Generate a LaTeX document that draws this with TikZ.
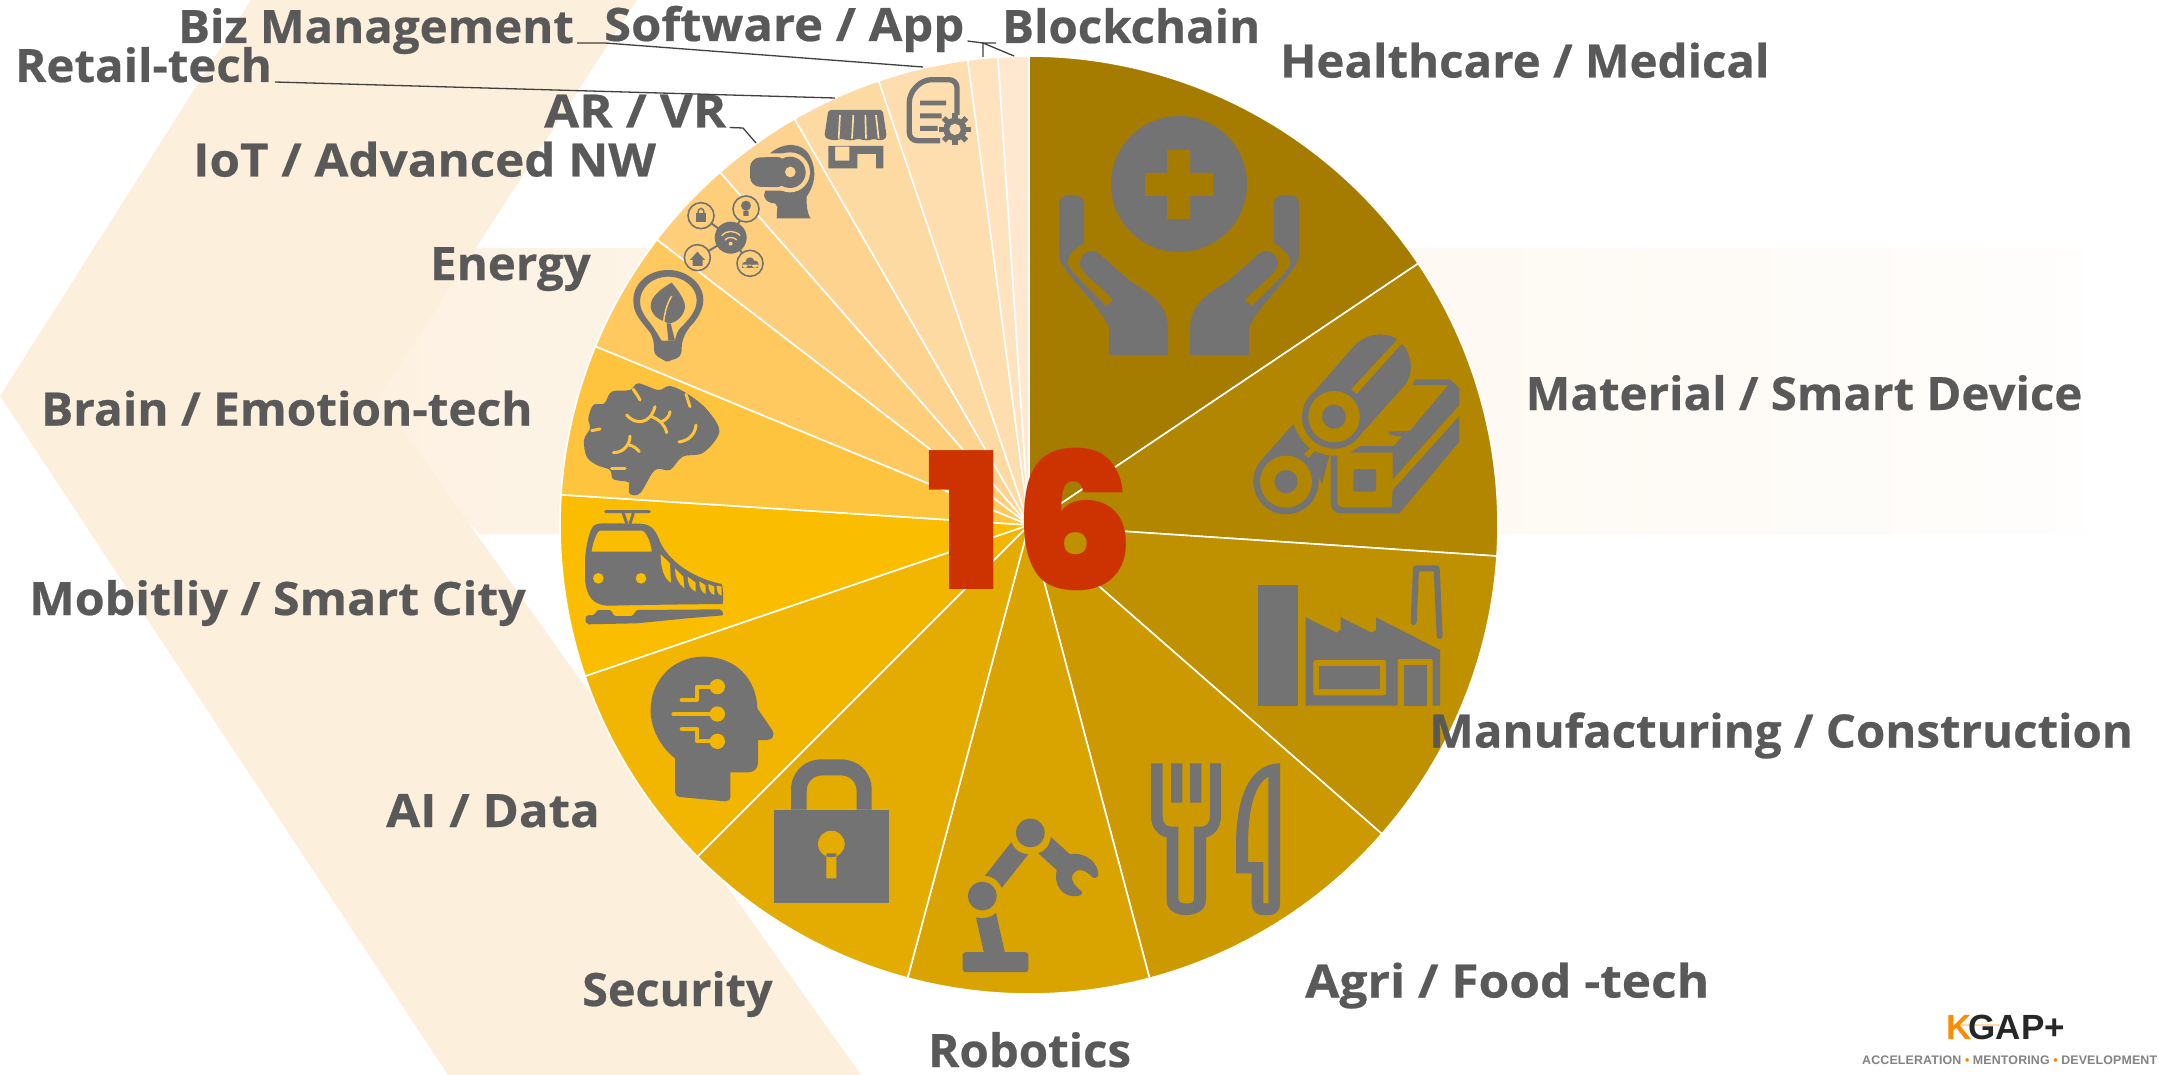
\documentclass[tikz,border=0pt]{standalone}
\usepackage{graphicx}
\usepackage{fontspec}
\setmainfont[FakeStretch=1.03,BoldFeatures={FakeBold=0.5}]{Open Sans}
\newfontfamily\heavyfont{Poppins Black}
\newfontfamily\logofont{Liberation Sans}
\usetikzlibrary{calc}
\newcommand{\widen}[2]{\scalebox{#1}[1]{#2}}
\definecolor{txt}{HTML}{595959}
\definecolor{ico}{HTML}{737373}
\definecolor{leader}{HTML}{404040}
\definecolor{chev}{HTML}{FCEFDC}
\definecolor{red16}{HTML}{CC3300}
\definecolor{cHealth}{HTML}{A67C00}
\definecolor{cMat}{HTML}{B38600}
\definecolor{cManu}{HTML}{BF9000}
\definecolor{cAgri}{HTML}{CC9900}
\definecolor{cRobo}{HTML}{D9A300}
\definecolor{cSec}{HTML}{E5AC00}
\definecolor{cAI}{HTML}{F2B500}
\definecolor{cMob}{HTML}{FBBD00}
\definecolor{cBrain}{HTML}{FFC43D}
\definecolor{cEnergy}{HTML}{FFC95F}
\definecolor{cIoT}{HTML}{FECE7A}
\definecolor{cAR}{HTML}{FED38F}
\definecolor{cRetail}{HTML}{FEDAA3}
\definecolor{cBiz}{HTML}{FEDDAF}
\definecolor{cSoft}{HTML}{FFE3BF}
\definecolor{cBlock}{HTML}{FFE8CF}
\tikzset{
  lbl/.style={font=\fontsize{46}{46}\selectfont\bfseries,text=txt,anchor=base west,inner sep=0pt},
  lead/.style={draw=leader,line width=1.3pt},
  icn/.style={fill=ico},
  z3/.style 2 args={shift={(#1,#2)},scale=0.33333},
  wire/.style={line width=#1,line cap=round,line join=round},
}
\begin{document}
\begin{tikzpicture}[x=1pt,y=-1pt]
\useasboundingbox (0,0) rectangle (2159,1075);
\fill[white] (0,0) rectangle (2159,1075);
% background arrows
\shade[left color=chev!85!white,middle color=chev!45!white,right color=chev!8!white]
  (475,248) -- (2085,248) -- (2085,534) -- (480,534) -- (340,397) -- cycle;
\fill[chev] (251,0) -- (637,0) -- (379,397) -- (861,1075) -- (448,1075) -- (0,396) -- cycle;
% pie
\coordinate (C) at (1029,525);
\foreach \a/\b/\c in {0/56.1/cHealth,56.1/93.8/cMat,93.8/131.2/cManu,131.2/165.1/cAgri,165.1/195/cRobo,195/225/cSec,225/251.2/cAI,251.2/273.7/cMob,273.7/292.4/cBrain,292.4/307.5/cEnergy,307.5/318.8/cIoT,318.8/330/cAR,330/341.3/cRetail,341.3/352.5/cBiz,352.5/356.2/cSoft,356.2/360/cBlock}{
  \filldraw[fill=\c,draw=white,line width=1.6pt,line join=round]
    (C) -- ++({90-\a}:469pt) arc[start angle={90-\a},end angle={90-\b},radius=469pt] -- cycle;
}
% Healthcare icon
\fill[icn] (1179,184) circle[radius=68];
\fill[cHealth] (1145,173) rectangle (1213,196) (1167,150) rectangle (1190,219);
\def\handpath{(1190,355) -- (1249,355) -- (1249,327) .. controls (1262,300) and (1299,270) .. (1299,255) -- (1299,203) .. controls (1299,192) and (1274,192) .. (1274,203) -- (1274,243) .. controls (1286,250) and (1292,258) .. (1290,264) .. controls (1288,272) and (1262,295) .. (1252,306) -- (1245,300) .. controls (1258,285) and (1280,272) .. (1278,262) .. controls (1276,252) and (1266,248) .. (1260,253) -- (1228,281) .. controls (1205,295) and (1190,305) .. (1190,330) -- cycle}
\fill[icn] \handpath;
\begin{scope}[shift={(2358,0)},xscale=-1]
\fill[icn] \handpath;
\end{scope}
% Material icon
\begin{scope}[z3={1240}{320}]
\fill[icn] (205,235) -- (345,75) .. controls (375,45) and (430,30) .. (472,58) -- (328,213) .. controls (285,205) and (235,212) .. (205,235) -- cycle;
\fill[icn] (485,72) .. controls (520,105) and (520,165) .. (495,195) -- (365,340) .. controls (372,300) and (360,260) .. (338,235) -- cycle;
\fill[icn] (282,290) circle[radius=96];
\fill[cMat] (282,290) circle[radius=77];
\fill[icn] (282,290) circle[radius=36];
\fill[icn] (160,312) .. controls (172,345) and (190,368) .. (210,385) -- (178,417) .. controls (135,398) and (90,405) .. (60,425) -- cycle;
\fill[icn] (225,393) .. controls (240,400) and (255,405) .. (268,407) -- (246,492) -- (220,440) .. controls (215,430) and (205,428) .. (195,425) -- cycle;
\fill[icn] (138,485) circle[radius=98];
\fill[cMat] (138,485) circle[radius=78];
\fill[icn] (138,485) circle[radius=35];
\fill[icn] (525,178) -- (630,178) -- (658,205) -- (658,255) -- (458,478) -- (458,398) -- (330,398) -- (360,378) -- (462,378) -- (485,350) -- (450,345) -- (445,335) -- (510,332) -- (625,195) -- (518,195) -- cycle;
\fill[icn] (658,288) -- (658,365) -- (478,580) -- (300,580) .. controls (285,580) and (272,565) .. (272,550) -- (272,407) -- (292,407) -- (292,545) .. controls (292,555) and (298,562) .. (305,562) -- (455,562) -- (458,510) -- cycle;
\fill[icn,rounded corners=2pt] (340,447) rectangle (408,515);
\end{scope}
% Factory and cutlery
\begin{scope}[z3={1130}{550}]
\fill[icn] (385,105) rectangle (505,468);
\fill[icn] (527,202) -- (620,248) -- (632,240) -- (632,202) -- (725,248) -- (738,240) -- (738,202) -- (930,300) -- (930,467) -- (527,467) -- cycle;
\fill[cManu,rounded corners=1.5pt] (550,330) rectangle (768,436);
\fill[icn] (567,348) rectangle (751,417);
\fill[cManu,rounded corners=1.5pt] (803,327) rectangle (908,480);
\fill[icn] (822,346) rectangle (890,467);
\draw[ico,wire=6pt] (851,216) -- (858,55) -- (920,55) -- (929,258);
\fill[icn] (63,640) -- (63,800) .. controls (63,832) and (85,858) .. (110,862) -- (110,1050) .. controls (110,1080) and (135,1095) .. (168,1095) .. controls (200,1095) and (228,1080) .. (228,1050) -- (228,862) .. controls (252,858) and (273,832) .. (273,800) -- (273,640) -- (240,640) -- (240,800) .. controls (240,818) and (228,830) .. (215,830) -- (192,830) -- (192,1045) .. controls (192,1055) and (185,1060) .. (178,1060) -- (160,1060) .. controls (152,1060) and (145,1055) .. (145,1045) -- (145,830) -- (122,830) .. controls (108,830) and (98,818) .. (98,800) -- (98,640) -- cycle;
\fill[icn] (123,640) rectangle (157,758) (180,640) rectangle (214,758);
\fill[icn,even odd rule] (450,640) -- (450,1060) .. controls (450,1085) and (435,1095) .. (420,1095) -- (395,1095) .. controls (378,1095) and (365,1080) .. (365,1060) -- (365,970) -- (318,970) -- (318,880) .. controls (320,720) and (370,640) .. (450,640) -- cycle
  (415,680) -- (415,1060) -- (400,1060) -- (400,936) -- (354,936) -- (354,880) .. controls (355,760) and (380,700) .. (415,680) -- cycle;
\end{scope}
% Brain and train
\begin{scope}[z3={570}{360}]
\fill[icn] plot[smooth cycle,tension=0.55] coordinates {(178,400) (210,400) (255,330) (300,330) (338,290) (400,278) (448,215) (412,150) (355,103) (300,78) (265,90) (205,70) (180,90) (125,95) (103,130) (70,135) (55,175) (60,205) (42,240) (50,290) (80,315) (120,330) (130,358) (178,368)};
\fill[icn] (178,368) rectangle (210,400);
\begin{scope}[cBrain,wire=3pt]
\draw[cBrain] (190,88) .. controls (198,100) and (205,110) .. (210,120);
\draw[cBrain] (348,103) -- (360,140);
\draw[cBrain] (170,165) .. controls (195,195) and (240,195) .. (255,140);
\draw[cBrain] (245,170) .. controls (270,180) and (285,195) .. (290,218);
\draw[cBrain] (275,185) .. controls (290,178) and (298,170) .. (300,155);
\draw[cBrain] (378,195) .. controls (375,225) and (355,242) .. (327,246);
\draw[cBrain] (90,207) -- (65,212);
\draw[cBrain] (130,278) .. controls (160,278) and (180,255) .. (180,228);
\draw[cBrain] (178,255) .. controls (190,258) and (200,265) .. (208,275);
\draw[cBrain] (165,325) -- (125,325);
\end{scope}
\draw[ico,wire=3pt] (107,455) -- (238,455) (160,460) -- (170,490) (190,460) -- (180,490);
\fill[icn] (45,600) .. controls (48,550) and (60,510) .. (70,498) .. controls (80,490) and (95,490) .. (110,490) -- (210,491) .. controls (250,492) and (260,520) .. (270,545) .. controls (290,590) and (350,650) .. (455,672) .. controls (460,680) and (460,720) .. (458,732) .. controls (350,733) and (200,735) .. (120,737) .. controls (70,738) and (50,710) .. (45,660) -- cycle;
\fill[cMob] (90,512) -- (215,512) .. controls (232,515) and (245,560) .. (245,575) -- (65,575) .. controls (68,550) and (80,515) .. (90,512) -- cycle;
\fill[cMob] (85,655) circle[radius=16] (213,655) circle[radius=16];
\fill[cMob] (272,583) -- (300,610) -- (303,668) .. controls (280,655) and (272,620) .. (272,583) -- cycle;
\fill[cMob] (315,625) -- (340,650) -- (343,685) .. controls (325,672) and (315,650) .. (315,625) -- cycle;
\fill[cMob] (353,650) -- (377,668) -- (377,695) .. controls (360,688) and (353,670) .. (353,650) -- cycle;
\fill[cMob] (388,664) -- (407,676) -- (407,702) .. controls (394,696) and (388,682) .. (388,664) -- cycle;
\fill[cMob] (415,672) -- (433,680) -- (433,705) .. controls (420,700) and (415,690) .. (415,672) -- cycle;
\fill[cMob] (440,677) -- (455,680) -- (455,707) .. controls (444,704) and (440,695) .. (440,677) -- cycle;
\fill[icn,rounded corners=2pt] (45,775) -- (50,765) -- (75,765) -- (80,750) -- (125,750) -- (130,768) -- (190,768) -- (197,750) -- (455,748) -- (461,766) -- (350,775) -- (200,790) -- (50,793) -- cycle;
\end{scope}
% AI head and lock
\begin{scope}[z3={640}{650}]
\fill[icn] (32,180) .. controls (32,90) and (100,20) .. (190,20) .. controls (290,20) and (350,90) .. (352,175) -- (395,238) .. controls (408,258) and (395,270) .. (380,270) -- (354,270) -- (354,340) .. controls (354,355) and (340,367) .. (325,367) -- (271,367) -- (271,440) .. controls (271,450) and (262,455) .. (255,454) -- (120,441) .. controls (110,440) and (105,432) .. (105,425) -- (105,325) .. controls (60,290) and (32,235) .. (32,180) -- cycle;
\fill[cAI] (232,110) circle[radius=23] (232,192) circle[radius=23] (232,274) circle[radius=23];
\draw[cAI,wire=4pt] (125,150) -- (170,150) -- (170,110) -- (232,110);
\draw[cAI,wire=4pt] (100,193) -- (232,193);
\draw[cAI,wire=4pt] (125,237) -- (172,237) -- (172,274) -- (232,274);
\fill[icn] (402,479) rectangle (748,759);
\fill[icn] (453,479) -- (453,420) .. controls (453,365) and (495,328) .. (545,328) -- (600,328) .. controls (655,328) and (695,365) .. (695,420) -- (695,479) -- (650,479) -- (650,425) .. controls (650,395) and (630,376) .. (600,376) -- (550,376) .. controls (520,376) and (500,395) .. (500,425) -- (500,479) -- cycle;
\fill[cSec] (574,582) circle[radius=40] (559,610) rectangle (589,685);
\end{scope}
% Robot arm
\begin{scope}[shift={(920,430)},xscale=0.33333,yscale=0.35714]
\fill[icn,rounded corners=3pt] (128,1462) rectangle (325,1518);
\fill[icn] (168,1365) .. controls (190,1370) and (215,1365) .. (228,1352) -- (255,1465) -- (192,1465) -- cycle;
\fill[icn] (187,1305) ellipse[x radius=43,y radius=40];
\fill[icn] (331,1128) ellipse[x radius=43,y radius=40];
\fill[icn] (274,1154) .. controls (285,1178) and (305,1188) .. (325,1188) -- (245,1282) .. controls (235,1262) and (220,1250) .. (195,1248) -- cycle;
\fill[icn] (393,1140) -- (450,1188) .. controls (500,1180) and (535,1215) .. (535,1245) .. controls (533,1258) and (520,1255) .. (515,1250) .. controls (495,1230) and (470,1225) .. (458,1245) .. controls (450,1265) and (470,1280) .. (485,1292) .. controls (490,1303) and (478,1305) .. (460,1305) .. controls (425,1305) and (400,1270) .. (410,1232) -- (355,1185) .. controls (375,1180) and (388,1165) .. (393,1140) -- cycle;
\end{scope}
% Energy bulb
\begin{scope}[z3={620}{260}]
\fill[icn,even odd rule] (145,30) .. controls (85,30) and (38,70) .. (40,125) .. controls (40,165) and (70,190) .. (92,220) .. controls (100,235) and (102,250) .. (102,270) .. controls (102,290) and (125,295) .. (130,300) .. controls (140,307) and (150,305) .. (155,300) .. controls (175,295) and (185,290) .. (185,265) .. controls (185,240) and (195,220) .. (210,200) .. controls (230,180) and (250,150) .. (250,120) .. controls (250,70) and (200,30) .. (145,30) -- cycle
 (145,50) .. controls (95,50) and (60,85) .. (60,125) .. controls (60,160) and (90,185) .. (105,210) .. controls (115,225) and (120,235) .. (125,242) -- (165,242) .. controls (168,225) and (172,215) .. (180,205) .. controls (205,180) and (230,155) .. (230,120) .. controls (230,85) and (195,50) .. (145,50) -- cycle;
\fill[icn] (155,68) .. controls (125,85) and (90,110) .. (92,140) .. controls (95,165) and (115,178) .. (128,182) -- (145,190) .. controls (165,190) and (193,170) .. (195,140) .. controls (195,115) and (165,80) .. (155,68) -- cycle;
\fill[icn] (140,190) -- (152,190) -- (165,242) -- (145,242) -- cycle;
\draw[cEnergy,line width=1.5pt] (155,108) .. controls (135,140) and (125,190) .. (133,242);
\end{scope}
% IoT, AR, store, document icons
\begin{scope}[z3={640}{40}]
\draw[ico,line width=2pt] (272,593) -- (183,527) (272,593) -- (318,507) (272,593) -- (172,653) (272,593) -- (330,670);
\foreach \px/\py in {183/527,318/507,172/653,330/670}{\draw[ico,line width=1.6pt,fill=cIoT] (\px,\py) circle[radius=39];}
\fill[icn] (272,593) circle[radius=48];
\draw[cIoT,line width=1.4pt] (255,600) .. controls (262,590) and (282,590) .. (290,600) (245,587) .. controls (258,570) and (286,570) .. (300,587);
\fill[cIoT] (272,611) circle[radius=6];
\fill[icn] (168,520) rectangle (198,545);
\draw[ico,line width=1.4pt] (174,520) .. controls (174,500) and (192,500) .. (192,520);
\fill[icn] (150,660) -- (172,635) -- (195,660) -- (188,660) -- (188,678) -- (158,678) -- (158,660) -- cycle;
\fill[icn] (318,497) circle[radius=15] (310,513) rectangle (326,528);
\fill[icn] (315,675) circle[radius=9] (330,665) circle[radius=13] (345,673) circle[radius=11] (306,674) rectangle (354,684);
% AR
\fill[icn] (390,340) .. controls (430,305) and (490,305) .. (510,350) .. controls (535,400) and (520,440) .. (500,470) -- (500,490) .. controls (502,515) and (505,525) .. (512,535) -- (410,535) -- (412,500) -- (405,490) .. controls (380,490) and (365,470) .. (375,455) -- cycle;
\fill[cAR] (450,397) circle[radius=60];
\fill[cAR,rounded corners=4pt] (320,340) rectangle (450,452);
\fill[icn] (450,397) circle[radius=47];
\fill[icn,rounded corners=10pt] (330,353) -- (440,350) -- (440,442) -- (330,440) -- cycle;
\fill[cAR] (451,396) circle[radius=16];
% store
\fill[icn,rounded corners=2pt] (565,210) -- (728,210) -- (740,290) .. controls (730,302) and (715,302) .. (700,295) .. controls (690,302) and (670,302) .. (655,295) .. controls (640,302) and (620,302) .. (605,295) .. controls (590,302) and (570,302) .. (553,290) -- cycle;
\draw[cRetail,line width=1.7pt] (600,225) -- (596,296) (640,225) -- (636,296) (676,225) -- (678,296) (708,225) -- (716,296);
\fill[icn,even odd rule] (565,318) -- (730,318) -- (730,385) -- (708,385) -- (708,342) -- (652,342) -- (652,385) -- (565,385) -- cycle
 (585,320) rectangle (628,362);
% document
\draw[ico,line width=5.3pt,line join=round,rounded corners=8pt] (951,225) -- (951,119) -- (850,119) -- (808,162) -- (808,302) -- (900,302);
\fill[icn] (840,182) rectangle (918,196) (840,220) rectangle (905,235) (840,258) rectangle (893,273);
\fill[cBiz] (945,268) circle[radius=43];
\foreach \a in {0,45,...,315}{\fill[icn,shift={(945,268)},rotate=\a] (-8,-48) rectangle (8,0);}
\fill[icn] (945,268) circle[radius=35];
\fill[cBiz] (945,268) circle[radius=17];
\end{scope}
% leader ends
\coordinate (bizA) at (605,43);
\coordinate (bizB) at (923,67);
\coordinate (retB) at (835,98);
\coordinate (arA) at (743,128);
\coordinate (arB) at (756,143);
\coordinate (swA) at (983,43);
\coordinate (swB) at (983,57);
\coordinate (blB) at (1014,56);
% labels
\node[lbl] (biz) at (178,43) {Biz Management};
\node[lbl] (sw) at (604,41) {\widen{1.032}{Software / App}};
\node[lbl] (block) at (1002,43) {Blockchain};
\node[lbl] (health) at (1280,77.5) {Healthcare / Medical};
\node[lbl] (retail) at (15,82) {Retail-tech};
\node[lbl] (arvr) at (544,127.5) {\widen{1.07}{AR / VR}};
\node[lbl] (iot) at (193,176.5) {\widen{1.04}{IoT / Advanced NW}};
\node[lbl] (energy) at (430,280) {Energy};
\node[lbl] (brain) at (41,425.5) {\widen{1.007}{Brain / Emotion-tech}};
\node[lbl] (mat) at (1525.5,410) {Material / Smart Device};
\node[lbl] (mob) at (29,615) {\widen{1.02}{Mobitliy / Smart City}};
\node[lbl] (ai) at (386,827) {\widen{1.04}{AI / Data}};
\node[lbl] (sec) at (582,1006) {\widen{0.986}{Security}};
\node[lbl] (robo) at (928,1067) {Robotics};
\node[lbl] (manu) at (1429,747.5) {Manufacturing / Construction};
\node[lbl] (agri) at (1305,997.5) {\widen{1.047}{Agri / Food -tech}};
% leaders
\draw[lead] ([xshift=3pt]biz.base east) -- (bizA) -- (bizB);
\draw[lead] ([xshift=3pt]retail.base east) -- (retB);
\draw[lead] ([xshift=3pt]arvr.base east) -- (arA) -- (arB);
\draw[lead] ([xshift=3pt]sw.base east) -- (swA) -- (swB);
\draw[lead] ([xshift=-6pt]block.base west) -- (swA) -- (blB);
% big number
\node[font=\fontsize{190}{190}\selectfont\heavyfont,text=red16,anchor=base west,inner sep=0pt] (num) at (927,589) {1\kern12pt 6};
% logo
\draw[draw=chev!80!orange,line width=2pt] (1958,1025) -- (2000,1025);
\node[font=\fontsize{35}{35}\selectfont\logofont\bfseries,text=black!85,anchor=base west,inner sep=0pt] (logo) at (1946,1039) {\textcolor{orange!90!yellow}{K}\kern-3pt GAP+};
\node[font=\fontsize{12.4}{12.4}\selectfont\logofont\bfseries\addfontfeature{LetterSpace=1.2},text=txt!75!white,anchor=base west,inner sep=0pt] (tag) at (1862,1064) {ACCELERATION \textcolor{orange}{•} MENTORING \textcolor{orange}{•} DEVELOPMENT};
\end{tikzpicture}
\end{document}
